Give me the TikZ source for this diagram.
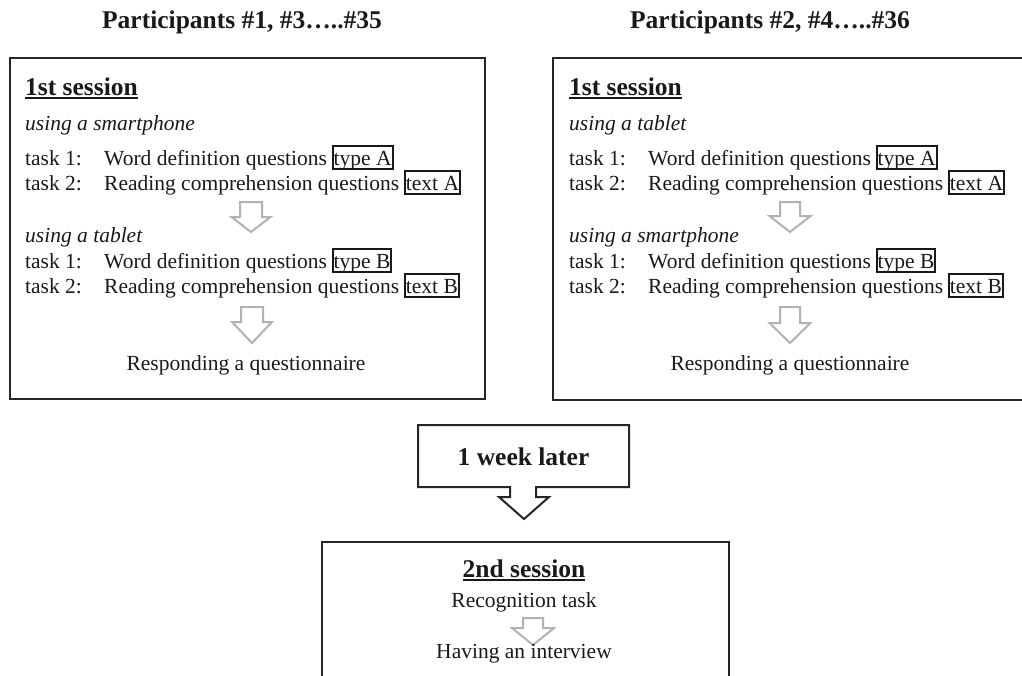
\documentclass[tikz,border=0pt]{standalone}
\usepackage{fontspec}
\setmainfont{Liberation Serif}
\usepackage{tikz}
\usetikzlibrary{positioning}

\newcommand{\undl}[1]{\leavevmode\vtop{\hbox{#1}\kern2pt\hrule height 1.8pt}}

\begin{document}
\begin{tikzpicture}[
	x=1pt,
	y=-1pt,
	txt/.style={
		inner sep=0pt,
		text=black!90,
		font=\fontsize{21.5}{25}\selectfont,
	},
	hd/.style={
		inner sep=0pt,
		text=black!90,
		font=\bfseries\fontsize{25.5}{30}\selectfont,
	},
	sessbox/.style={
		draw=black!85,
		line width=2pt,
		rectangle,
		anchor=north west,
		inner sep=0pt,
	},
	tagbox/.style={
		draw=black!90,
		line width=2pt,
		inner xsep=1pt,
		inner ysep=0pt,
		text height=19.5pt,
		text depth=4pt,
		anchor=base west,
		text=black!90,
		font=\fontsize{21.5}{25}\selectfont,
	},
	grayarrow/.style={
		draw=black!30,
		line width=2pt,
		line join=miter,
	},
	]
	\clip (0,0) rectangle (1022,675);
	\node[hd, anchor=base] (headL) at (242,28) {Participants \#1, \#3…..\#35};
	\node[hd, anchor=base] (headR) at (770,28) {Participants \#2, \#4…..\#36};
	\node[sessbox, minimum width=475, minimum height=341] (boxL) at (9,57) {};
	\node[sessbox, minimum width=480, minimum height=342] (boxR) at (552,57) {};
	\foreach \dx/\ua/\ub/\s in {0/smartphone/tablet/L,544/tablet/smartphone/R}
	{
		\node[hd, anchor=base west] (sess\s) at (25+\dx,95) {\undl{1st session}};
		\foreach \v/\dev/\yu/\yt in {A/\ua/130/165,B/\ub/242/268}
		{
			\node[txt, anchor=base west] (use\v\s) at (25+\dx,\yu) {\textit{using a \dev}};
			\node[txt, anchor=base west] (ta\v\s) at (25+\dx,\yt) {task 1:};
			\node[txt, anchor=base west] (da\v\s) at (104+\dx,\yt) {Word definition questions};
			\node[tagbox] (ka\v\s) at ([xshift=4.5]da\v\s.base east) {type \v};
			\node[txt, anchor=base west] (tb\v\s) at (25+\dx,\yt+25) {task 2:};
			\node[txt, anchor=base west] (db\v\s) at (104+\dx,\yt+25) {Reading comprehension questions};
			\node[tagbox] (kb\v\s) at ([xshift=4.5]db\v\s.base east) {text \v};
		}
		\node[txt, anchor=base] (resp\s) at (246+\dx,370) {Responding a questionnaire};
	}
	% hollow arrows
	\foreach \ax/\ay/\sw/\hw/\sl/\hl in {251/202/11/19.5/15/15,252/307/11/20/15/21,790/202/10/20.5/14/16,790/307/10/20.5/16/20,533/618/10/21/10/17}
	\draw[grayarrow] (\ax-\sw,\ay) -- (\ax+\sw,\ay) -- (\ax+\sw,\ay+\sl) -- (\ax+\hw,\ay+\sl) -- (\ax,\ay+\sl+\hl) -- (\ax-\hw,\ay+\sl) -- (\ax-\sw,\ay+\sl) -- cycle;
	\draw[line width=2pt, black!85, line join=miter] (418,425) -- (629,425) -- (629,487) -- (536,487) -- (536,497) -- (549,497) -- (524,519) -- (499,497) -- (510,497) -- (510,487) -- (418,487) -- cycle;
	\node[hd, anchor=base] (week) at (523.5,465) {1 week later};
	\node[sessbox, minimum width=407, minimum height=200] (boxB) at (321,541) {};
	\node[hd, anchor=base] (sess2) at (524,577) {\undl{2nd session}};
	\node[txt, anchor=base] (recog) at (524,607) {Recognition task};
	\node[txt, anchor=base] (interv) at (524,658) {Having an interview};
\end{tikzpicture}
\end{document}
